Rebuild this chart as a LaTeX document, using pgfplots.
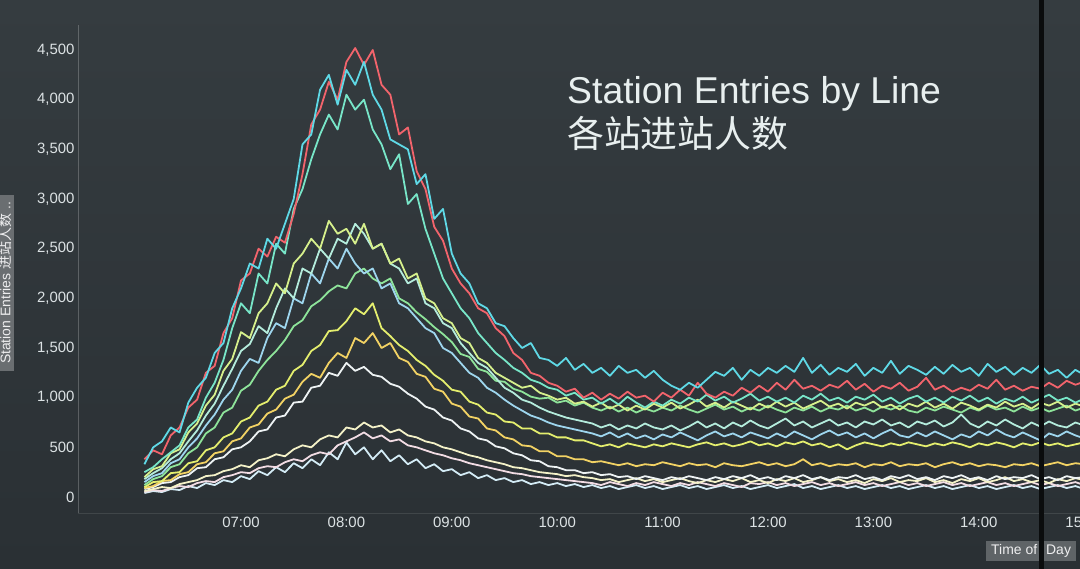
\documentclass[border=0pt]{standalone}
\usepackage{pgfplots}
\pgfplotsset{compat=1.18}
\usepackage{fontspec}
\setmainfont{Liberation Sans}
\newfontfamily\cjk{Noto Sans CJK SC}
\definecolor{bgtop}{HTML}{353C40}
\definecolor{bgbot}{HTML}{2A3034}
\definecolor{tickc}{HTML}{DCE2E4}
\definecolor{titlec}{HTML}{E8EFEF}
\definecolor{cA}{HTML}{F2646C}
\definecolor{cB}{HTML}{5FD9E6}
\definecolor{cC}{HTML}{78E6C8}
\definecolor{cD}{HTML}{D6F08C}
\definecolor{cE}{HTML}{B4ECDC}
\definecolor{cF}{HTML}{9ED6EE}
\definecolor{cG}{HTML}{8EE49A}
\definecolor{cH}{HTML}{E4EE6E}
\definecolor{cI}{HTML}{F2D264}
\definecolor{cJ}{HTML}{EEF3F4}
\definecolor{cK}{HTML}{F4F2C8}
\definecolor{cL}{HTML}{F2DCE4}
\definecolor{cM}{HTML}{D4ECF6}
\begin{document}
\begin{tikzpicture}[x=1bp,y=1bp]
\shade[top color=bgtop,bottom color=bgbot] (0,0) rectangle (1080,569);
\begin{axis}[
  at={(78bp,56bp)}, anchor=south west,
  scale only axis, width=1058.9bp, height=488bp,
  xmin=327.2, xmax=930, ymin=-161.1, ymax=4752,
  axis lines=left,
  x axis line style={-, draw=white, draw opacity=0.10, line width=0.8bp},
  y axis line style={-, draw=white, draw opacity=0.22, line width=1bp},
  major tick length=0pt,
  xtick={420,480,540,600,660,720,780,840,900},
  xticklabels={07:00,08:00,09:00,10:00,11:00,12:00,13:00,14:00,15:00},
  ytick={0,500,1000,1500,2000,2500,3000,3500,4000,4500},
  /pgf/number format/.cd, 1000 sep={,}, assume math mode=true,
  /pgfplots/.cd,
  ticklabel style={font=\fontsize{15}{18}\selectfont, text=tickc},
  xticklabel style={yshift=-1bp},
  every axis plot/.append style={line width=1.8bp, line join=round, mark=none},
]
% M
\addplot[cM] coordinates {(365,40)(370,60)(375,50)(380,80)(385,70)(390,110)(395,90)(400,140)(405,120)(410,170)(415,150)(420,210)(425,180)(430,260)(435,220)(440,300)(445,250)(450,340)(455,290)(460,380)(465,320)(470,450)(475,380)(480,550)(485,430)(490,500)(495,380)(500,470)(505,360)(510,420)(515,330)(520,380)(525,290)(530,330)(535,260)(540,280)(545,220)(550,250)(555,190)(560,220)(565,170)(570,190)(575,150)(580,170)(585,130)(590,150)(595,120)(600,140)(605,110)(610,130)(615,100)(620,120)(625,90)(630,110)(635,80)(640,100)(645,120)(650,90)(655,110)(660,80)(665,100)(670,120)(675,90)(680,110)(685,80)(690,100)(695,120)(700,90)(705,110)(710,80)(715,100)(720,120)(725,90)(730,110)(735,130)(740,90)(745,110)(750,80)(755,100)(760,120)(765,90)(770,110)(775,80)(780,100)(785,120)(790,90)(795,110)(800,80)(805,100)(810,120)(815,90)(820,110)(825,80)(830,100)(835,120)(840,90)(845,110)(850,80)(855,100)(860,120)(865,90)(870,110)(875,80)(880,100)(885,120)(890,90)(895,110)(900,80)};
% L
\addplot[cL] coordinates {(365,50)(370,70)(375,60)(380,90)(385,110)(390,100)(395,140)(400,160)(405,150)(410,200)(415,220)(420,250)(425,240)(430,290)(435,310)(440,300)(445,350)(450,380)(455,360)(460,420)(465,450)(470,430)(475,520)(480,560)(485,600)(490,650)(495,590)(500,620)(505,560)(510,580)(515,520)(520,500)(525,470)(530,440)(535,420)(540,390)(545,370)(550,340)(555,320)(560,300)(565,280)(570,260)(575,240)(580,230)(585,210)(590,200)(595,190)(600,180)(605,170)(610,160)(615,150)(620,140)(625,120)(630,150)(635,130)(640,110)(645,140)(650,120)(655,150)(660,130)(665,110)(670,140)(675,120)(680,150)(685,130)(690,110)(695,140)(700,120)(705,100)(710,140)(715,130)(720,150)(725,120)(730,140)(735,110)(740,130)(745,150)(750,120)(755,140)(760,110)(765,130)(770,150)(775,120)(780,140)(785,110)(790,130)(795,150)(800,120)(805,140)(810,110)(815,130)(820,150)(825,120)(830,140)(835,110)(840,130)(845,150)(850,120)(855,140)(860,110)(865,130)(870,150)(875,120)(880,140)(885,110)(890,130)(895,150)(900,120)};
% K
\addplot[cK] coordinates {(365,60)(370,80)(375,100)(380,90)(385,130)(390,150)(395,170)(400,210)(405,220)(410,260)(415,280)(420,320)(425,300)(430,370)(435,390)(440,430)(445,410)(450,480)(455,520)(460,500)(465,580)(470,620)(475,600)(480,700)(485,680)(490,750)(495,700)(500,720)(505,650)(510,680)(515,620)(520,600)(525,560)(530,540)(535,500)(540,480)(545,450)(550,420)(555,400)(560,370)(565,350)(570,330)(575,300)(580,290)(585,270)(590,250)(595,240)(600,230)(605,210)(610,220)(615,200)(620,190)(625,170)(630,180)(635,150)(640,170)(645,190)(650,160)(655,180)(660,150)(665,170)(670,190)(675,160)(680,140)(685,170)(690,150)(695,180)(700,160)(705,190)(710,150)(715,170)(720,140)(725,180)(730,160)(735,190)(740,150)(745,170)(750,200)(755,160)(760,180)(765,150)(770,170)(775,140)(780,180)(785,160)(790,190)(795,150)(800,170)(805,160)(810,190)(815,150)(820,170)(825,140)(830,180)(835,160)(840,190)(845,150)(850,170)(855,200)(860,160)(865,180)(870,150)(875,170)(880,140)(885,180)(890,160)(895,190)(900,170)};
% J
\addplot[cJ] coordinates {(365,80)(370,100)(375,140)(380,150)(385,200)(390,220)(395,290)(400,300)(405,380)(410,400)(415,480)(420,500)(425,560)(430,660)(435,680)(440,800)(445,820)(450,950)(455,960)(460,1100)(465,1120)(470,1250)(475,1220)(480,1350)(485,1270)(490,1310)(495,1230)(500,1210)(505,1140)(510,1110)(515,1040)(520,990)(525,910)(530,880)(535,800)(540,770)(545,690)(550,660)(555,590)(560,570)(565,510)(570,490)(575,440)(580,420)(585,370)(590,360)(595,310)(600,300)(605,270)(610,270)(615,240)(620,250)(625,220)(630,230)(635,200)(640,210)(645,180)(650,210)(655,190)(660,170)(665,200)(670,180)(675,210)(680,190)(685,170)(690,200)(695,180)(700,210)(705,190)(710,220)(715,180)(720,200)(725,170)(730,210)(735,190)(740,220)(745,180)(750,200)(755,170)(760,200)(765,190)(770,220)(775,180)(780,200)(785,170)(790,210)(795,190)(800,220)(805,180)(810,200)(815,170)(820,210)(825,190)(830,220)(835,180)(840,200)(845,170)(850,210)(855,180)(860,200)(865,190)(870,220)(875,180)(880,200)(885,170)(890,210)(895,190)(900,200)};
% I
\addplot[cI] coordinates {(365,90)(370,110)(375,160)(380,170)(385,230)(390,250)(395,330)(400,350)(405,440)(410,460)(415,560)(420,590)(425,700)(430,730)(435,840)(440,880)(445,990)(450,1030)(455,1160)(460,1240)(465,1200)(470,1350)(475,1450)(480,1400)(485,1600)(490,1550)(495,1650)(500,1500)(505,1550)(510,1400)(515,1360)(520,1240)(525,1210)(530,1090)(535,1060)(540,940)(545,910)(550,810)(555,790)(560,690)(565,670)(570,600)(575,580)(580,520)(585,510)(590,460)(595,460)(600,410)(605,410)(610,380)(615,380)(620,350)(625,360)(630,340)(635,320)(640,340)(645,310)(650,330)(655,320)(660,350)(665,330)(670,310)(675,340)(680,320)(685,330)(690,300)(695,340)(700,320)(705,310)(710,330)(715,350)(720,320)(725,340)(730,310)(735,330)(740,380)(745,320)(750,340)(755,310)(760,330)(765,320)(770,340)(775,300)(780,330)(785,320)(790,350)(795,310)(800,330)(805,320)(810,340)(815,300)(820,330)(825,350)(830,320)(835,340)(840,310)(845,330)(850,320)(855,300)(860,330)(865,320)(870,340)(875,310)(880,330)(885,350)(890,320)(895,340)(900,330)};
% H
\addplot[cH] coordinates {(365,100)(370,150)(375,160)(380,240)(385,250)(390,340)(395,360)(400,470)(405,500)(410,600)(415,640)(420,760)(425,800)(430,920)(435,960)(440,1080)(445,1120)(450,1270)(455,1330)(460,1470)(465,1530)(470,1670)(475,1680)(480,1770)(485,1900)(490,1840)(495,1950)(500,1700)(505,1620)(510,1530)(515,1470)(520,1380)(525,1320)(530,1230)(535,1170)(540,1080)(545,1060)(550,960)(555,930)(560,850)(565,830)(570,760)(575,750)(580,690)(585,690)(590,640)(595,640)(600,600)(605,600)(610,570)(615,570)(620,540)(625,510)(630,530)(635,500)(640,540)(645,520)(650,500)(655,530)(660,510)(665,540)(670,520)(675,500)(680,530)(685,550)(690,520)(695,540)(700,510)(705,530)(710,560)(715,520)(720,540)(725,510)(730,550)(735,530)(740,560)(745,520)(750,540)(755,500)(760,530)(765,480)(770,520)(775,550)(780,530)(785,510)(790,540)(795,520)(800,550)(805,530)(810,510)(815,540)(820,520)(825,550)(830,530)(835,500)(840,540)(845,520)(850,550)(855,530)(860,500)(865,540)(870,520)(875,550)(880,520)(885,540)(890,510)(895,530)(900,550)};
% G
\addplot[cG] coordinates {(365,120)(370,180)(375,210)(380,300)(385,330)(390,440)(395,500)(400,640)(405,700)(410,850)(415,900)(420,1070)(425,1130)(430,1270)(435,1380)(440,1470)(445,1580)(450,1720)(455,1780)(460,1920)(465,1980)(470,2070)(475,2130)(480,2100)(485,2250)(490,2300)(495,2200)(500,2150)(505,2200)(510,2000)(515,1950)(520,1860)(525,1790)(530,1710)(535,1640)(540,1560)(545,1440)(550,1410)(555,1290)(560,1260)(565,1170)(570,1160)(575,1090)(580,1060)(585,1010)(590,990)(595,1000)(600,950)(605,970)(610,920)(615,950)(620,900)(625,870)(630,910)(635,860)(640,900)(645,850)(650,890)(655,860)(660,900)(665,870)(670,920)(675,880)(680,850)(685,890)(690,930)(695,880)(700,910)(705,860)(710,900)(715,870)(720,920)(725,880)(730,850)(735,900)(740,870)(745,910)(750,860)(755,900)(760,880)(765,920)(770,870)(775,900)(780,860)(785,910)(790,880)(795,920)(800,870)(805,850)(810,900)(815,870)(820,910)(825,880)(830,850)(835,900)(840,870)(845,920)(850,880)(855,900)(860,860)(865,910)(870,870)(875,900)(880,860)(885,890)(890,920)(895,870)(900,900)};
% F
\addplot[cF] coordinates {(365,150)(370,210)(375,240)(380,340)(385,380)(390,500)(395,590)(400,720)(405,830)(410,980)(415,1080)(420,1270)(425,1390)(430,1350)(435,1600)(440,1750)(445,1700)(450,2000)(455,1950)(460,2250)(465,2150)(470,2400)(475,2300)(480,2500)(485,2350)(490,2250)(495,2300)(500,2100)(505,2150)(510,1950)(515,1900)(520,1800)(525,1700)(530,1650)(535,1500)(540,1450)(545,1350)(550,1250)(555,1200)(560,1100)(565,1050)(570,980)(575,920)(580,870)(585,820)(590,790)(595,750)(600,720)(605,700)(610,680)(615,660)(620,640)(625,610)(630,650)(635,600)(640,640)(645,590)(650,620)(655,580)(660,630)(665,600)(670,650)(675,610)(680,570)(685,620)(690,660)(695,610)(700,640)(705,600)(710,650)(715,620)(720,590)(725,640)(730,600)(735,660)(740,620)(745,580)(750,630)(755,670)(760,620)(765,650)(770,600)(775,640)(780,590)(785,640)(790,680)(795,620)(800,600)(805,650)(810,610)(815,660)(820,620)(825,580)(830,630)(835,600)(840,660)(845,620)(850,680)(855,630)(860,600)(865,650)(870,610)(875,570)(880,640)(885,610)(890,660)(895,620)(900,590)};
% E
\addplot[cE] coordinates {(365,180)(370,240)(375,290)(380,380)(385,440)(390,560)(395,670)(400,820)(405,940)(410,1120)(415,1290)(420,1470)(425,1540)(430,1720)(435,1650)(440,1900)(445,2100)(450,2000)(455,2300)(460,2250)(465,2500)(470,2400)(475,2600)(480,2550)(485,2750)(490,2650)(495,2500)(500,2550)(505,2350)(510,2300)(515,2150)(520,2200)(525,1950)(530,1900)(535,1750)(540,1700)(545,1550)(550,1450)(555,1350)(560,1300)(565,1200)(570,1100)(575,1050)(580,980)(585,950)(590,900)(595,860)(600,830)(605,800)(610,780)(615,760)(620,740)(625,700)(630,730)(635,680)(640,720)(645,690)(650,740)(655,700)(660,680)(665,720)(670,670)(675,710)(680,760)(685,700)(690,740)(695,690)(700,750)(705,710)(710,770)(715,720)(720,690)(725,740)(730,790)(735,720)(740,760)(745,700)(750,740)(755,780)(760,720)(765,750)(770,700)(775,760)(780,730)(785,780)(790,720)(795,750)(800,700)(805,760)(810,730)(815,770)(820,710)(825,750)(830,830)(835,740)(840,700)(845,760)(850,720)(855,780)(860,730)(865,690)(870,750)(875,710)(880,760)(885,720)(890,700)(895,750)(900,720)};
% D
\addplot[cD] coordinates {(365,200)(370,280)(375,310)(380,440)(385,480)(390,650)(395,740)(400,920)(405,1030)(410,1270)(415,1390)(420,1660)(425,1600)(430,1850)(435,1950)(440,2150)(445,2050)(450,2350)(455,2450)(460,2600)(465,2500)(470,2780)(475,2650)(480,2700)(485,2550)(490,2750)(495,2500)(500,2550)(505,2350)(510,2400)(515,2200)(520,2250)(525,2000)(530,1950)(535,1800)(540,1750)(545,1600)(550,1550)(555,1400)(560,1350)(565,1250)(570,1200)(575,1150)(580,1100)(585,1120)(590,1050)(595,1020)(600,980)(605,1000)(610,940)(615,960)(620,910)(625,950)(630,890)(635,930)(640,870)(645,920)(650,880)(655,940)(660,900)(665,950)(670,890)(675,930)(680,980)(685,910)(690,950)(695,900)(700,960)(705,920)(710,880)(715,940)(720,900)(725,960)(730,910)(735,950)(740,890)(745,930)(750,970)(755,910)(760,940)(765,890)(770,950)(775,920)(780,960)(785,900)(790,930)(795,880)(800,940)(805,910)(810,960)(815,900)(820,940)(825,890)(830,950)(835,920)(840,880)(845,930)(850,900)(855,960)(860,910)(865,940)(870,890)(875,950)(880,920)(885,960)(890,900)(895,940)(900,910)};
% C
\addplot[cC] coordinates {(365,250)(370,300)(375,380)(380,450)(385,520)(390,700)(395,780)(400,1000)(405,1150)(410,1380)(415,1700)(420,1950)(425,1850)(430,2250)(435,2150)(440,2550)(445,2450)(450,2900)(455,3100)(460,3400)(465,3650)(470,3850)(475,3700)(480,4050)(485,3900)(490,4000)(495,3700)(500,3550)(505,3300)(510,3450)(515,2950)(520,3050)(525,2700)(530,2450)(535,2200)(540,2050)(545,1900)(550,1800)(555,1650)(560,1550)(565,1450)(570,1380)(575,1300)(580,1250)(585,1180)(590,1150)(595,1100)(600,1080)(605,1020)(610,1050)(615,980)(620,1000)(625,940)(630,990)(635,930)(640,1010)(645,950)(650,900)(655,960)(660,920)(665,980)(670,940)(675,1000)(680,960)(685,1030)(690,970)(695,1010)(700,950)(705,990)(710,1040)(715,970)(720,1010)(725,960)(730,1000)(735,950)(740,1020)(745,980)(750,1040)(755,970)(760,1000)(765,950)(770,1010)(775,980)(780,1030)(785,960)(790,1000)(795,940)(800,990)(805,1020)(810,960)(815,1000)(820,950)(825,1010)(830,970)(835,1020)(840,960)(845,1000)(850,940)(855,990)(860,960)(865,1010)(870,950)(875,990)(880,1030)(885,970)(890,1000)(895,950)(900,990)};
% A red
\addplot[cA] coordinates {(365,380)(370,470)(375,430)(380,620)(385,700)(390,900)(395,980)(400,1250)(405,1320)(410,1650)(415,1800)(420,2180)(425,2250)(430,2500)(435,2420)(440,2620)(445,2560)(450,2850)(455,3250)(460,3750)(465,3900)(470,4180)(475,4000)(480,4380)(485,4520)(490,4350)(495,4500)(500,4150)(505,4050)(510,3650)(515,3720)(520,3280)(525,3100)(530,2720)(535,2580)(540,2300)(545,2150)(550,2050)(555,1900)(560,1850)(565,1700)(570,1620)(575,1450)(580,1380)(585,1250)(590,1220)(595,1150)(600,1120)(605,1060)(610,1090)(615,1000)(620,1050)(625,980)(630,1040)(635,990)(640,1060)(645,1000)(650,1020)(655,960)(660,1050)(665,1000)(670,1080)(675,1020)(680,1150)(685,1040)(690,1000)(695,1060)(700,1020)(705,1100)(710,1050)(715,1120)(720,1060)(725,1150)(730,1080)(735,1180)(740,1090)(745,1120)(750,1070)(755,1130)(760,1100)(765,1170)(770,1080)(775,1140)(780,1060)(785,1120)(790,1090)(795,1150)(800,1070)(805,1110)(810,1200)(815,1080)(820,1120)(825,1060)(830,1100)(835,1070)(840,1130)(845,1090)(850,1180)(855,1080)(860,1120)(865,1070)(870,1110)(875,1090)(880,1150)(885,1100)(890,1170)(895,1130)(900,1160)};
% B cyan
\addplot[cB] coordinates {(365,330)(370,500)(375,560)(380,700)(385,650)(390,950)(395,1100)(400,1200)(405,1450)(410,1550)(415,1900)(420,2100)(425,2350)(430,2300)(435,2600)(440,2500)(445,2750)(450,3000)(455,3550)(460,3650)(465,4100)(470,4250)(475,3950)(480,4300)(485,4150)(490,4380)(495,4050)(500,3900)(505,3600)(510,3550)(515,3500)(520,3150)(525,3250)(530,2800)(535,2900)(540,2450)(545,2250)(550,2150)(555,1950)(560,1900)(565,1750)(570,1720)(575,1600)(580,1500)(585,1550)(590,1400)(595,1380)(600,1320)(605,1400)(610,1280)(615,1340)(620,1250)(625,1300)(630,1220)(635,1320)(640,1250)(645,1280)(650,1200)(655,1270)(660,1180)(665,1120)(670,1080)(675,1150)(680,1100)(685,1180)(690,1260)(695,1220)(700,1300)(705,1180)(710,1280)(715,1220)(720,1300)(725,1250)(730,1320)(735,1260)(740,1400)(745,1250)(750,1330)(755,1230)(760,1300)(765,1260)(770,1340)(775,1220)(780,1300)(785,1250)(790,1370)(795,1240)(800,1320)(805,1280)(810,1230)(815,1310)(820,1240)(825,1330)(830,1260)(835,1300)(840,1220)(845,1340)(850,1260)(855,1310)(860,1230)(865,1300)(870,1250)(875,1330)(880,1240)(885,1280)(890,1200)(895,1280)(900,1230)};
\end{axis}
% titles
\node[anchor=base west, inner sep=0, text=titlec, font=\fontsize{37.5}{40}\selectfont] at (567,465) {Station Entries by Line};
\node[anchor=base west, inner sep=0, text=titlec, font={\fontsize{37}{40}\cjk}] at (567,421) {各站进站人数};
% y axis name box (cut by the photo edge, as in the photo)
\node[rotate=90, fill=white!30!bgbot, text=white!92!bgbot, font=\fontsize{14}{16}\selectfont, inner xsep=7bp, inner ysep=2.5bp] at (5,286) {Station Entries {\cjk 进站人数} ..};
% x axis name box
\node[anchor=west, fill=white!25!bgbot, text=white!92!bgbot, font=\fontsize{14}{16}\selectfont, inner xsep=5bp, inner ysep=3.5bp] at (986,18) {Time of\hspace{9bp}Day};
% screen bezel line
\fill[black!75!bgbot] (1039,0) rectangle (1043.5,569);
\pgfresetboundingbox
\useasboundingbox (0,0) rectangle (1080,569);
\end{tikzpicture}
\end{document}
